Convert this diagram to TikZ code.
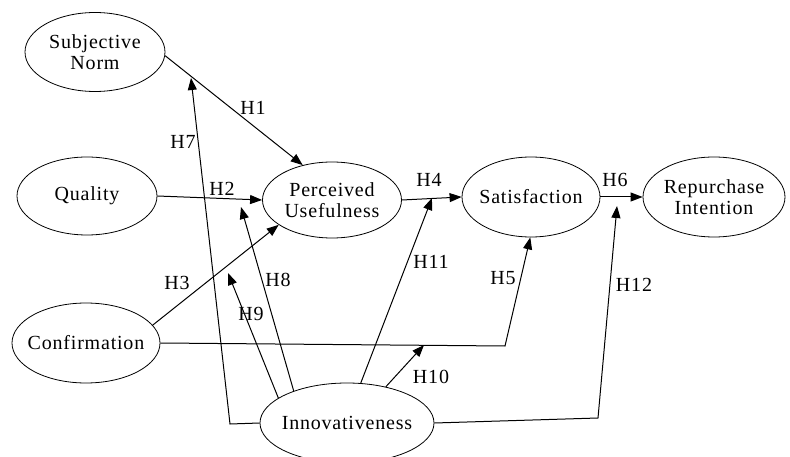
\documentclass[tikz,border=0pt]{standalone}
\usepackage{fontspec}
\setmainfont[LetterSpace=4]{Liberation Serif}
\usetikzlibrary{shapes.geometric,arrows.meta}
\begin{document}
\begin{tikzpicture}[x=1pt,y=-1pt,
  construct/.style={ellipse,draw,line width=0.8pt,inner xsep=-20pt,inner ysep=-10pt,align=center,
    font=\fontsize{20}{21}\selectfont},
  hyp/.style={draw,line width=1pt,-{Triangle[length=12pt,width=9pt]}},
  lab/.style={font=\fontsize{20}{21}\selectfont,inner sep=0pt}]
\useasboundingbox (0,0) rectangle (790,457);
% constructs
\node[construct,minimum width=140pt,minimum height=79pt] (sn) at (95,52) {Subjective\\Norm};
\node[construct,minimum width=140pt,minimum height=78pt] (q) at (87,196) {Quality};
\node[construct,minimum width=139pt,minimum height=76pt] (pu) at (332,200) {Perceived\\Usefulness};
\node[construct,minimum width=138pt,minimum height=80pt] (sat) at (531,197) {Satisfaction};
\node[construct,minimum width=142pt,minimum height=80pt] (rep) at (714,197) {Repurchase\\Intention};
\node[construct,minimum width=148pt,minimum height=80pt] (conf) at (86,343) {Confirmation};
\node[construct,minimum width=174pt,minimum height=80pt] (inn) at (347,423) {Innovativeness};
% corner and tip coordinates
\coordinate (c5) at (505,346);
\coordinate (c7) at (230,424);
\coordinate (c12) at (598,418);
\coordinate (t7) at (191,78);
\coordinate (t8) at (241,207);
\coordinate (t9) at (228,273);
\coordinate (t10) at (424,345);
\coordinate (t11) at (432,198);
\coordinate (t12) at (617,206);
% direct effects
\draw[hyp] (sn.-3) -- (pu.130);
\draw[hyp] (q.east) -- (pu.west);
\draw[hyp] (conf.15) -- (pu.205);
\draw[hyp] (pu.east) -- (sat.west);
\draw[hyp] (conf.east) -- (c5) -- (sat.-91);
\draw[hyp] (sat.east) -- (rep.west);
% moderating effects
\draw[hyp] (inn.west) -- (c7) -- (t7);
\draw[hyp] (inn.149) -- (t8);
\draw[hyp] (inn.160) -- (t9);
\draw[hyp] (inn.43) -- (t10);
\draw[hyp] (inn.71) -- (t11);
\draw[hyp] (inn.east) -- (c12) -- (t12);
% labels
\node[lab] (l1) at (253,108) {H1};
\node[lab] (l2) at (222,189) {H2};
\node[lab] (l3) at (177,283) {H3};
\node[lab] (l4) at (429,180) {H4};
\node[lab] (l5) at (503,278) {H5};
\node[lab] (l6) at (615,180) {H6};
\node[lab] (l7) at (183,142) {H7};
\node[lab] (l8) at (278,280) {H8};
\node[lab] (l9) at (251,314) {H9};
\node[lab] (l10) at (431,377) {H10};
\node[lab] (l11) at (431,262) {H11};
\node[lab] (l12) at (634,285) {H12};
\end{tikzpicture}
\end{document}
